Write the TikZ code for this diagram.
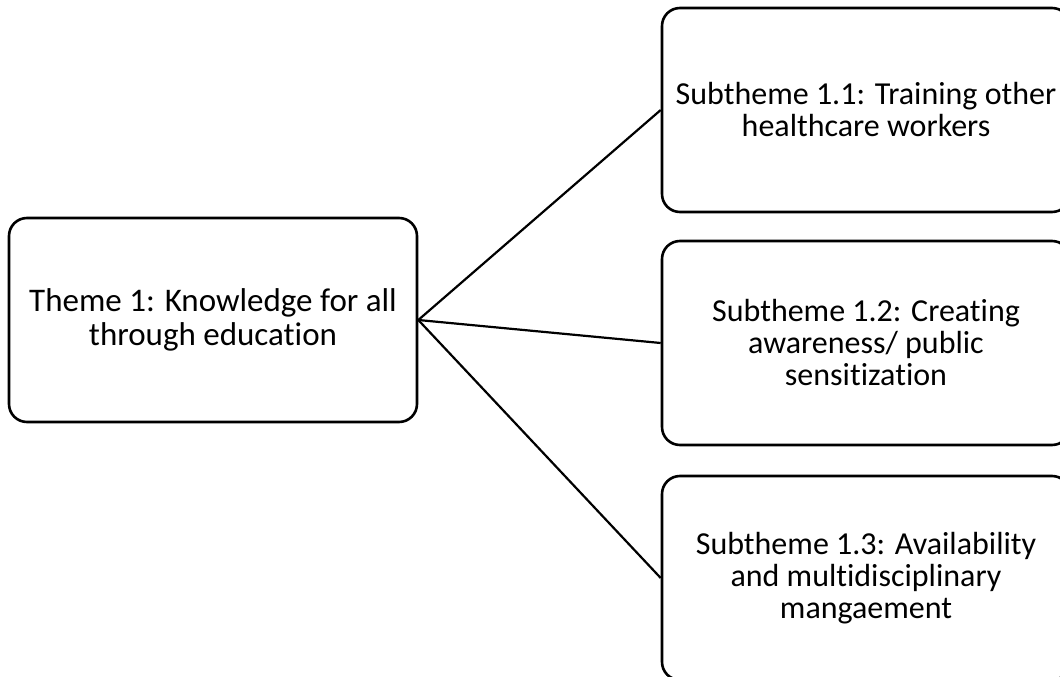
\documentclass[tikz,border=0pt]{standalone}
\usepackage{fontspec}
\setmainfont{Carlito}[Ligatures=NoCommon]
\begin{document}
\begin{tikzpicture}[x=1pt,y=-1pt,
  box/.style={draw=black,line width=2.6pt,rounded corners=18pt,minimum width=408pt,minimum height=204pt,inner sep=0pt,align=center,font=\fontsize{33}{33.5}\selectfont},
  subbox/.style={box,font=\fontsize{32}{32}\selectfont},
  link/.style={draw=black,line width=2.2pt}]
\useasboundingbox (0,0) rectangle (1060,677);
\node[box] (t) at (213,320) {Theme 1: Knowledge for all\\through education};
\node[subbox] (s1) at (866,110) {Subtheme 1.1: Training other\\healthcare workers};
\node[subbox] (s2) at (866,343) {Subtheme 1.2: Creating\\awareness/ public\\sensitization};
\node[subbox] (s3) at (866,578) {Subtheme 1.3: Availability\\and multidisciplinary\\mangaement};
\draw[link] (t.east) -- (s1.west);
\draw[link] (t.east) -- (s2.west);
\draw[link] (t.east) -- (s3.west);
\end{tikzpicture}
\end{document}
